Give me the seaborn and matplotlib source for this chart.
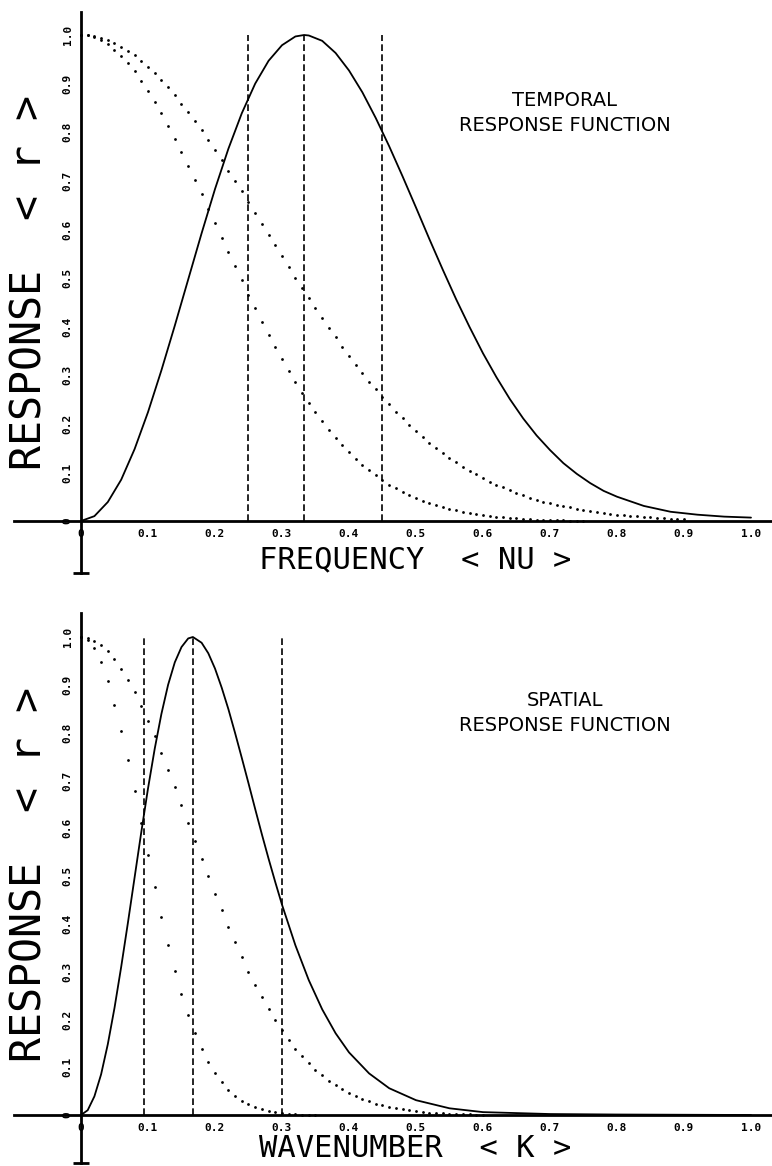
import numpy as np
import matplotlib
matplotlib.use("Agg")
import matplotlib.pyplot as plt
import seaborn as sns

# ticks shared by both panels
tick_values = [0.0, 0.1, 0.2, 0.3, 0.4, 0.5, 0.6, 0.7, 0.8, 0.9, 1.0]
tick_labels = ["0", "0.1", "0.2", "0.3", "0.4", "0.5", "0.6", "0.7", "0.8", "0.9", "1.0"]

# temporal response (solid line)
temporal_nu = [0.0, 0.02, 0.04, 0.06, 0.08, 0.10, 0.12, 0.14, 0.16, 0.18, 0.20,
               0.22, 0.24, 0.26, 0.28, 0.30, 0.32, 0.333, 0.34, 0.36, 0.38, 0.40,
               0.42, 0.44, 0.46, 0.48, 0.50, 0.52, 0.54, 0.56, 0.58, 0.60, 0.62,
               0.64, 0.66, 0.68, 0.70, 0.72, 0.74, 0.76, 0.78, 0.80, 0.84, 0.88,
               0.92, 0.96, 1.0]
temporal_r = [0.0, 0.010, 0.039, 0.085, 0.148, 0.224, 0.310, 0.402, 0.497, 0.592, 0.683,
              0.766, 0.839, 0.900, 0.947, 0.979, 0.997, 1.0, 0.999, 0.988, 0.963, 0.927,
              0.882, 0.829, 0.771, 0.709, 0.645, 0.580, 0.517, 0.456, 0.399, 0.345, 0.296,
              0.251, 0.211, 0.176, 0.146, 0.119, 0.097, 0.078, 0.062, 0.050, 0.031, 0.019,
              0.013, 0.009, 0.007]
temporal_marks = [0.25, 0.333, 0.45]

# temporal dotted curves, one dot every 0.01 in NU
temporal_outer = [1.000, 0.999, 0.997, 0.994, 0.989, 0.983, 0.976, 0.968, 0.958, 0.947,
                  0.935, 0.922, 0.907, 0.892, 0.876, 0.859, 0.841, 0.823, 0.804, 0.784,
                  0.764, 0.743, 0.721, 0.700, 0.678, 0.656, 0.634, 0.612, 0.589, 0.567,
                  0.545, 0.523, 0.501, 0.480, 0.458, 0.438, 0.417, 0.397, 0.378, 0.358,
                  0.340, 0.322, 0.304, 0.287, 0.271, 0.255, 0.240, 0.225, 0.211, 0.198,
                  0.185, 0.173, 0.161, 0.150, 0.140, 0.130, 0.121, 0.112, 0.103, 0.096,
                  0.088, 0.081, 0.075, 0.069, 0.063, 0.058, 0.053, 0.048, 0.044, 0.040,
                  0.037, 0.033, 0.030, 0.028, 0.025, 0.023, 0.020, 0.018, 0.017, 0.015,
                  0.013, 0.012, 0.011, 0.010, 0.009, 0.008, 0.007, 0.006, 0.005, 0.005,
                  0.004]
temporal_inner = [1.000, 0.999, 0.995, 0.989, 0.981, 0.970, 0.957, 0.942, 0.925, 0.906,
                  0.885, 0.862, 0.839, 0.813, 0.787, 0.760, 0.731, 0.702, 0.673, 0.643,
                  0.613, 0.583, 0.553, 0.524, 0.495, 0.466, 0.438, 0.410, 0.383, 0.358,
                  0.333, 0.309, 0.286, 0.264, 0.243, 0.224, 0.205, 0.188, 0.171, 0.156,
                  0.141, 0.128, 0.116, 0.104, 0.094, 0.084, 0.075, 0.067, 0.060, 0.053,
                  0.047, 0.042, 0.037, 0.032, 0.028, 0.025, 0.022, 0.019, 0.016, 0.014,
                  0.012, 0.011, 0.009, 0.008, 0.007, 0.006, 0.005, 0.004, 0.003, 0.003,
                  0.002, 0.002, 0.002, 0.001, 0.001, 0.001]

# spatial response (solid line)
spatial_k = [0.0, 0.01, 0.02, 0.03, 0.04, 0.05, 0.06, 0.07, 0.08, 0.09, 0.10, 0.11,
             0.12, 0.13, 0.14, 0.15, 0.16, 0.167, 0.18, 0.19, 0.20, 0.21, 0.22, 0.23,
             0.24, 0.25, 0.26, 0.27, 0.28, 0.29, 0.30, 0.32, 0.34, 0.36, 0.38, 0.40,
             0.43, 0.46, 0.50, 0.55, 0.60, 0.70, 0.80, 1.0]
spatial_r = [0.0, 0.010, 0.039, 0.085, 0.148, 0.224, 0.310, 0.402, 0.497, 0.592, 0.683,
             0.766, 0.839, 0.900, 0.947, 0.979, 0.997, 1.0, 0.988, 0.966, 0.934, 0.894,
             0.849, 0.799, 0.747, 0.694, 0.640, 0.587, 0.536, 0.487, 0.440, 0.355, 0.282,
             0.221, 0.171, 0.131, 0.087, 0.056, 0.031, 0.014, 0.006, 0.002, 0.001, 0.0]
spatial_marks = [0.094, 0.167, 0.30]

# spatial dotted curves, one dot every 0.01 in K
spatial_outer = [1.000, 0.998, 0.992, 0.983, 0.970, 0.953, 0.933, 0.910, 0.884, 0.856,
                 0.825, 0.792, 0.758, 0.722, 0.686, 0.649, 0.611, 0.574, 0.536, 0.499,
                 0.463, 0.428, 0.394, 0.361, 0.330, 0.300, 0.272, 0.246, 0.221, 0.198,
                 0.177, 0.157, 0.139, 0.123, 0.108, 0.095, 0.083, 0.072, 0.062, 0.054,
                 0.046, 0.039, 0.034, 0.029, 0.024, 0.020, 0.017, 0.014, 0.012, 0.010,
                 0.008, 0.007, 0.005, 0.004, 0.004, 0.003, 0.002, 0.002, 0.002, 0.001,
                 0.001]
spatial_inner = [1.000, 0.994, 0.976, 0.947, 0.907, 0.858, 0.803, 0.742, 0.677, 0.610,
                 0.543, 0.478, 0.415, 0.356, 0.302, 0.253, 0.210, 0.171, 0.138, 0.110,
                 0.087, 0.068, 0.052, 0.040, 0.030, 0.022, 0.016, 0.012, 0.008, 0.006,
                 0.004, 0.003, 0.002, 0.001, 0.001, 0.000]

DOT_STEP = 0.01
W, H = 772, 1166


def px_axes(fig, left, top, right, bottom):
    """Axes placed by pixel box (top-left origin)."""
    return fig.add_axes([left / W, 1 - bottom / H, (right - left) / W, (bottom - top) / H])


def draw_panel(ax, x, r, marks, outer, inner, xlim, ylim, title):
    """One response-function panel, plotter style."""
    ax.set_xlim(*xlim)
    ax.set_ylim(*ylim)

    sns.lineplot(x=x, y=r, ax=ax, color="black", lw=1.3, errorbar=None, sort=False)
    for dots in (outer, inner):
        xs = DOT_STEP * np.arange(len(dots))
        sns.scatterplot(x=xs, y=dots, ax=ax, color="black", s=4, linewidth=0,
                        marker="o", zorder=3)
    ax.vlines(marks, 0, 1.0, colors="black", linestyles=(0, (4, 2)), lw=1.2)

    # axes crossing at the origin
    for side in ("top", "right"):
        ax.spines[side].set_visible(False)
    for side in ("left", "bottom"):
        ax.spines[side].set_position(("data", 0))
        ax.spines[side].set_linewidth(2)
        ax.spines[side].set_color("black")
    ax.plot([0], [ylim[0]], marker="_", ms=11, mew=2, color="black", clip_on=False)

    ax.set_xticks(tick_values, tick_labels)
    ax.set_yticks(tick_values, tick_labels, rotation=90, va="center")
    ax.tick_params(direction="inout", length=8, width=1.5, color="black",
                   labelcolor="black", pad=2)
    for lab in ax.get_xticklabels() + ax.get_yticklabels():
        lab.set_fontfamily("DejaVu Sans Mono")
        lab.set_fontweight("bold")
        lab.set_fontsize(8)
    ax.set_xlabel("")
    ax.set_ylabel("")
    ax.set_facecolor("white")

    ax.text(0.722, 0.84, title, ha="center", va="center", fontsize=14,
            color="black", linespacing=1.4)


sns.set_theme(style="white")
plt.rcParams["font.family"] = ["DejaVu Sans"]

fig = plt.figure(figsize=(W / 100, H / 100), dpi=100)
fig.patch.set_facecolor("white")

# upper panel: x=0 at px 81, x=1 at px 751; r=0 at px 521, r=1 at px 35
ax1 = px_axes(fig, 14, 12, 771, 573)
draw_panel(ax1, temporal_nu, temporal_r, temporal_marks, temporal_outer, temporal_inner,
           ((14 - 81) / 670, (771 - 81) / 670), ((521 - 573) / 486, (521 - 12) / 486),
           "TEMPORAL\nRESPONSE FUNCTION")

# lower panel: r=0 at px 1115, r=1 at px 637
ax2 = px_axes(fig, 14, 613, 771, 1163)
draw_panel(ax2, spatial_k, spatial_r, spatial_marks, spatial_outer, spatial_inner,
           ((14 - 81) / 670, (771 - 81) / 670), ((1115 - 1163) / 478, (1115 - 613) / 478),
           "SPATIAL\nRESPONSE FUNCTION")

ylab_kw = dict(fontsize=30, color="black", family="DejaVu Sans Mono",
               rotation=90, ha="center", va="center")
xlab_kw = dict(fontsize=22, color="black", family="DejaVu Sans Mono",
               ha="center", va="baseline")
fig.text(30 / W, 1 - 282 / H, "RESPONSE  < r >", **ylab_kw)
fig.text(30 / W, 1 - 875 / H, "RESPONSE  < r >", **ylab_kw)
fig.text(415 / W, 1 - 568 / H, "FREQUENCY  < NU >", **xlab_kw)
fig.text(415 / W, 1 - 1157 / H, "WAVENUMBER  < K >", **xlab_kw)

fig.savefig("out.png", dpi=100, facecolor="white")
